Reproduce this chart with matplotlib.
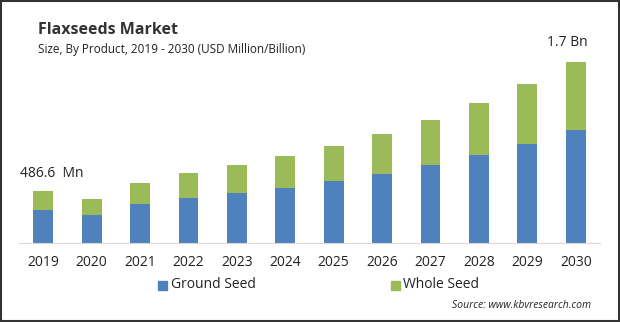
import matplotlib.pyplot as plt
from matplotlib.patches import Rectangle

plt.rcParams['font.family'] = ['Open Sans', 'DejaVu Sans']

years = ['2019', '2020', '2021', '2022', '2023', '2024',
         '2025', '2026', '2027', '2028', '2029', '2030']
ground_seed = [312, 263, 367, 423, 470, 517, 583, 649, 733, 827, 931, 1062]
whole_seed = [175, 150, 197, 235, 263, 301, 329, 376, 423, 489, 564, 639]
first_label = '486.6  Mn'
last_label = '1.7 Bn'

blue = '#4F81BD'
green = '#9BBB59'

fig = plt.figure(figsize=(6.2, 3.22), dpi=100)
ax = fig.add_axes([19 / 620, (322 - 243) / 322, 581 / 620, 193 / 322])

x = range(len(years))
ax.bar(x, ground_seed, width=0.41, color=blue, label='Ground Seed')
ax.bar(x, whole_seed, width=0.41, bottom=ground_seed, color=green, label='Whole Seed')

ax.set_xlim(-0.5, 11.5)
ax.set_ylim(0, 1813)
for s in ['top', 'right', 'left']:
    ax.spines[s].set_visible(False)
ax.spines['bottom'].set_color('#d9d9d9')
ax.set_yticks([])
ax.set_xticks(list(x))
ax.set_xticklabels(years, fontsize=10, color='#222222')
ax.tick_params(axis='x', length=0, pad=9)

totals = [g + w for g, w in zip(ground_seed, whole_seed)]
ax.text(0.17, totals[0] + 165, first_label, ha='center', va='center',
        fontsize=10, color='#222222')
ax.text(10.83, totals[-1] + 185, last_label, ha='center', va='center',
        fontsize=10, color='#222222')

fig.text(38 / 620, 1 - 30 / 322, 'Flaxseeds Market', fontsize=11.5,
         fontweight='bold', color='#333333', va='center')
fig.text(38 / 620, 1 - 49 / 322, 'Size, By Product, 2019 - 2030 (USD Million/Billion)',
         fontsize=8.5, color='#222222', va='center')

# legend
fig.patches.append(Rectangle((158 / 620, 1 - 290 / 322), 9 / 620, 9 / 322,
                             transform=fig.transFigure, color=blue))
fig.text(171 / 620, 1 - 285 / 322, 'Ground Seed', fontsize=10, color='#222222', va='center')
fig.patches.append(Rectangle((391 / 620, 1 - 290 / 322), 9 / 620, 9 / 322,
                             transform=fig.transFigure, color=green))
fig.text(403 / 620, 1 - 285 / 322, 'Whole Seed', fontsize=10, color='#222222', va='center')

fig.text(591 / 620, 1 - 305 / 322, 'Source: www.kbvresearch.com', fontsize=7.5,
         style='italic', color='#222222', ha='right', va='center')

fig.patches.append(Rectangle((0.002, 0.003), 0.996, 0.994, transform=fig.transFigure,
                             fill=False, edgecolor='#333333', linewidth=1.5))

fig.savefig('out.png', dpi=100)
